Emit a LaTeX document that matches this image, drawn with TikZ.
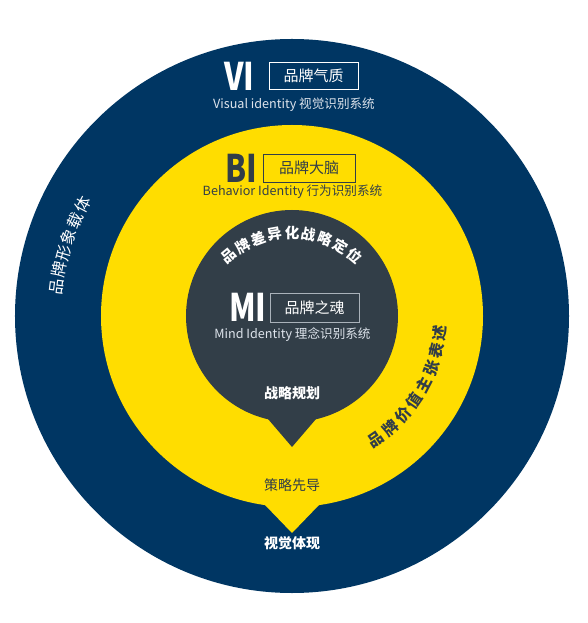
\documentclass[tikz,border=0pt]{standalone}
\usepackage{fontspec}
\setmainfont{Noto Sans CJK SC}
\usetikzlibrary{positioning}
\definecolor{brandnavy}{RGB}{0,54,99}
\definecolor{brandyellow}{RGB}{255,221,0}
\definecolor{brandslate}{RGB}{50,62,72}
\definecolor{brandgrey}{RGB}{170,178,186}
\definecolor{brandmist}{RGB}{222,228,236}

\begin{document}
\begin{tikzpicture}[x=1pt,y=1pt,
  tag/.style={draw,line width=0.8pt,minimum width=89pt,minimum height=27pt,inner sep=0pt,font=\fontsize{15}{15}\selectfont},
  level/.style={font=\fontsize{38}{38}\selectfont\bfseries,inner sep=0pt,xscale=0.8},
  subline/.style={font=\fontsize{12.6}{12.6}\selectfont,inner sep=0pt},
  arcchar/.style={font=\fontsize{16}{16}\selectfont,inner sep=0pt},
  pointer/.style={font=\fontsize{14}{14}\selectfont,inner sep=0pt}]
\useasboundingbox (-292,-307) rectangle (295,316);
% rings
\fill[brandnavy] (0,0) circle (277pt);
\fill[brandyellow] (0,0) circle (191pt);
\fill[brandyellow] (-27,-189) -- (0,-217) -- (27,-189) -- cycle;
\fill[brandslate] (0,0) circle (106pt);
\fill[brandslate] (-24,-103) -- (0,-131) -- (24,-103) -- cycle;
% VI
\node (vitag) [tag, draw=white, text=white] at (21.5,240) {品牌气质};
\node (vi) [level, text=white, left=14pt of vitag] {VI};
\node (visub) [subline, text=brandmist] at (2,211) {Visual identity 视觉识别系统};
% BI
\node (bitag) [tag, draw=brandslate, text=brandslate, minimum width=92pt, minimum height=28pt] at (17,148) {品牌大脑};
\node (bi) [level, text=brandslate, left=5pt of bitag] {BI};
\node (bisub) [subline, text=brandslate] at (0.5,124) {Behavior Identity 行为识别系统};
% MI
\node (mitag) [tag, draw=brandgrey, text=white, minimum height=29pt] at (22.5,8.5) {品牌之魂};
\node (mi) [level, text=white, left=3pt of mitag] {MI};
\node (misub) [subline, text=brandmist] at (0.5,-19) {Mind Identity 理念识别系统};
% arc texts
\foreach \ch [count=\i] in {品,牌,形,象,载,体} {
  \pgfmathsetmacro\ang{173-(\i-1)*4.2}
  \node (outer\i) [arcchar, text=white, rotate=\ang-90] at (\ang:237pt) {\ch};
}
\foreach \ch [count=\i] in {品,牌,差,异,化,战,略,定,位} {
  \pgfmathsetmacro\ang{130-(\i-1)*10}
  \node (inner\i) [arcchar, text=white, font=\fontsize{14.5}{14.5}\selectfont\bfseries, rotate=\ang-90] at ([shift={(0,-15)}]\ang:98pt) {\ch};
}
\foreach \ch [count=\i] in {品,牌,价,值,主,张,表,述} {
  \pgfmathsetmacro\ang{-55.8+(\i-1)*7.03}
  \node (middle\i) [arcchar, text=brandslate, font=\fontsize{15.5}{15.5}\selectfont\bfseries, rotate=\ang+90] at (\ang:149pt) {\ch};
}
% pointers
\node (plan) [pointer, text=white, font=\fontsize{14}{14}\selectfont\bfseries] at (0,-77) {战略规划};
\node (lead) [pointer, text=brandslate] at (0,-169) {策略先导};
\node (show) [pointer, text=white, font=\fontsize{14}{14}\selectfont\bfseries] at (0,-227) {视觉体现};
\end{tikzpicture}
\end{document}
